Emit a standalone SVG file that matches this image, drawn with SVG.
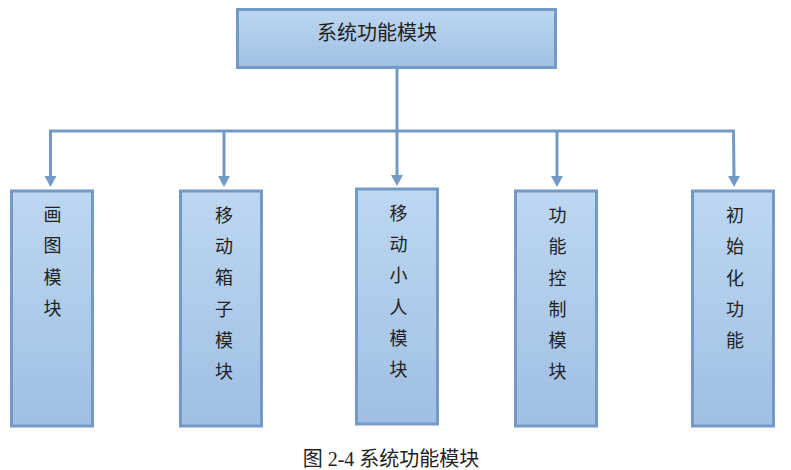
<svg xmlns="http://www.w3.org/2000/svg" width="791" height="470" viewBox="0 0 791 470">
<defs>
<linearGradient id="g" x1="0" y1="0" x2="0" y2="1">
<stop offset="0" stop-color="#BDD7F1"/>
<stop offset="1" stop-color="#9FBFE2"/>
</linearGradient>
<marker id="ah" markerWidth="11" markerHeight="12" refX="1" refY="6" orient="auto" markerUnits="userSpaceOnUse" viewBox="0 0 11 12" overflow="visible">
<path d="M0,0 L11,6 L0,12 Z" fill="#7399C6"/>
</marker>
<style>
.box{fill:url(#g);stroke:#7399C6;stroke-width:3}
.ln{fill:none;stroke:#7399C6;stroke-width:3}
.t{font-family:"Noto Sans CJK SC","Liberation Serif",sans-serif;font-size:18px;fill:#222;text-anchor:middle}
.title{font-family:"Noto Sans CJK SC","Liberation Sans",sans-serif;font-size:20px;fill:#222}
.cap{font-family:"Liberation Serif","Noto Sans CJK SC",serif;font-size:20px;fill:#222;text-anchor:middle}
</style>
</defs>
<g id="connectors">
<line class="ln" x1="397" y1="67" x2="397" y2="131"/>
<line class="ln" x1="49" y1="131" x2="735" y2="131"/>
<path class="ln" d="M50.5,131 V177" marker-end="url(#ah)"/>
<path class="ln" d="M224,131 V177" marker-end="url(#ah)"/>
<path class="ln" d="M397,131 V176" marker-end="url(#ah)"/>
<path class="ln" d="M557,131 V177" marker-end="url(#ah)"/>
<path class="ln" d="M733.5,131 L734,177" marker-end="url(#ah)"/>
</g>
<g id="root">
<rect class="box" x="237.5" y="9.5" width="318" height="58"/>
<text class="title" x="317" y="40">系统功能模块</text>
</g>
<g id="n1">
<rect class="box" x="11.5" y="191" width="81" height="235"/>
<text class="t"><tspan x="52.5" y="221">画</tspan><tspan x="52.5" y="252">图</tspan><tspan x="52.5" y="284">模</tspan><tspan x="52.5" y="315">块</tspan></text>
</g>
<g id="n2">
<rect class="box" x="180.5" y="191" width="81" height="235"/>
<text class="t"><tspan x="224" y="222">移</tspan><tspan x="224" y="253">动</tspan><tspan x="224" y="284">箱</tspan><tspan x="224" y="316">子</tspan><tspan x="224" y="347">模</tspan><tspan x="224" y="378">块</tspan></text>
</g>
<g id="n3">
<rect class="box" x="356.5" y="189" width="81" height="235"/>
<text class="t"><tspan x="398.5" y="219.5">移</tspan><tspan x="398.5" y="251">动</tspan><tspan x="398.5" y="282">小</tspan><tspan x="398.5" y="313.5">人</tspan><tspan x="398.5" y="345">模</tspan><tspan x="398.5" y="376">块</tspan></text>
</g>
<g id="n4">
<rect class="box" x="515.5" y="191" width="81" height="235"/>
<text class="t"><tspan x="557.5" y="222">功</tspan><tspan x="557.5" y="253">能</tspan><tspan x="557.5" y="284.5">控</tspan><tspan x="557.5" y="316">制</tspan><tspan x="557.5" y="347">模</tspan><tspan x="557.5" y="378">块</tspan></text>
</g>
<g id="n5">
<rect class="box" x="692.5" y="191" width="81" height="235"/>
<text class="t"><tspan x="735" y="222">初</tspan><tspan x="735" y="253">始</tspan><tspan x="735" y="284.5">化</tspan><tspan x="735" y="315.5">功</tspan><tspan x="735" y="346.5">能</tspan></text>
</g>
<text class="cap" x="391" y="466">图 2-4 系统功能模块</text>
</svg>
